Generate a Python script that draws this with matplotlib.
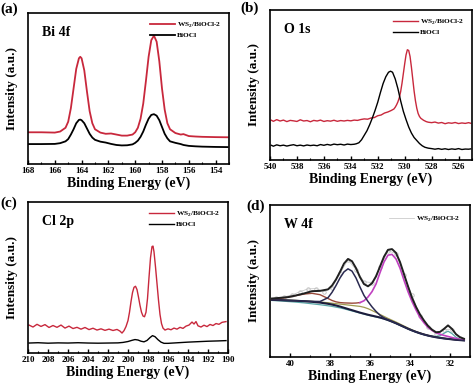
import matplotlib
matplotlib.use("Agg")
import matplotlib.pyplot as plt
from matplotlib.ticker import MultipleLocator

plt.rcParams['font.family'] = ['Liberation Serif', 'DejaVu Serif']
plt.rcParams['font.weight'] = 'bold'
plt.rcParams['axes.labelweight'] = 'bold'
plt.rcParams['mathtext.fontset'] = 'custom'
plt.rcParams['mathtext.rm'] = 'Liberation Serif:bold'

RED = '#c8283c'
LBL_WS = 'WS$_2$/BiOCl-2'

# ---------------- (a) Bi 4f ----------------
bi_x = [168, 167, 166, 165.6, 165.2, 165.0, 164.8, 164.6, 164.4, 164.2, 164.1, 164.0,
        163.8, 163.6, 163.4, 163.2, 163.0, 162.6, 162.2, 161.8, 161.4, 161.0, 160.6,
        160.2, 160.0, 159.8, 159.6, 159.4, 159.2, 159.0, 158.8, 158.6, 158.4, 158.2,
        158.0, 157.8, 157.6, 157.4, 157.0, 156.6, 156.4, 156.0, 155.5, 155, 154, 153.1]
bi_ws = [21, 21, 20.8, 21.5, 24, 28, 37, 50, 63, 70, 71, 70,
         62, 48, 35, 27, 23, 20.8, 20, 20.2, 19.5, 18.8, 18.8,
         19.5, 21, 24, 30, 40, 55, 71, 82, 85, 81, 68,
         50, 36, 27, 23, 20.5, 19.5, 19.8, 18.5, 18.2, 18, 17.8, 17.7]
bi_bio = [13.2, 13.2, 13.3, 13.8, 15, 16.5, 19.5, 23, 27, 29.2, 29.4, 29,
          27, 23.5, 20, 17.5, 16, 14.8, 14.2, 13.3, 12.6, 12.3, 12.4,
          13, 14, 15.5, 18, 21.5, 26, 30, 32.5, 33, 32, 29,
          24.5, 20, 17, 15, 14, 13.2, 12.6, 12, 11.7, 11.5, 11.3, 11.2]

# ---------------- (b) O 1s ----------------
o_ws_x = [539.9, 539.75, 539.5, 539.25, 539, 538.75, 538.5, 538.25, 538, 537.75, 537.5,
          537.25, 537, 536.75, 536.5, 536.25, 536, 535.75, 535.5, 535.25, 535, 534.75,
          534.5, 534.25, 534, 533.75, 533.5, 533.25, 533, 532.75, 532.5, 532.25, 532,
          531.75, 531.5, 531.25, 531, 530.8, 530.7, 530.6, 530.5, 530.4, 530.3, 530.2,
          530.1, 530.0, 529.9, 529.8, 529.7, 529.6, 529.5, 529.4, 529.3, 529.2, 529.1,
          529.0, 528.9, 528.8, 528.6, 528.4, 528.25, 528, 527.75, 527.5, 527.25, 527,
          526.75, 526.5, 526.25, 526, 525.75, 525.5, 525.25, 525.1]
o_ws = [26.5, 25.8, 26.9, 26.0, 26.6, 25.6, 26.4, 26.1, 25.7, 26.8, 26.0,
        26.3, 25.5, 26.4, 26.0, 26.6, 25.7, 26.2, 25.9, 26.5, 25.8, 26.3,
        26.0, 26.4, 26.1, 26.6, 26.4, 27.0, 27.4, 27.2, 28.0, 28.3, 29.5,
        30.0, 31.3, 32.0, 33.0, 34.0, 35.2, 36.8, 38.8, 41.5, 45.5, 51,
        57.5, 64, 70, 73.5, 73, 69, 62, 54, 46, 39.5, 34.5,
        31, 29, 27.8, 26.5, 25.6, 25.2, 24.9, 25.3, 24.6, 25.0, 24.2,
        24.8, 24.5, 25.0, 24.3, 24.7, 24.4, 24.9, 24.5]
o_bio_x = [539.9, 539.75, 539.5, 539.25, 539, 538.75, 538.5, 538.25, 538, 537.75, 537.5,
           537.25, 537, 536.75, 536.5, 536.25, 536, 535.75, 535.5, 535.25, 535, 534.75,
           534.5, 534.25, 534, 533.75, 533.6, 533.4, 533.2, 533.0, 532.8, 532.6, 532.4,
           532.2, 532.0, 531.8, 531.6, 531.4, 531.2, 531.05, 530.9, 530.7, 530.5, 530.3,
           530.1, 529.9, 529.7, 529.5, 529.3, 529.1, 528.9, 528.7, 528.5, 528.25, 528,
           527.75, 527.5, 527.25, 527, 526.75, 526.5, 526.25, 526, 525.75, 525.5,
           525.25, 525.1]
o_bio = [9.8, 9.2, 10.1, 9.5, 9.9, 9.3, 9.8, 10.2, 9.5, 9.9, 9.4,
         10.0, 9.6, 9.9, 9.5, 10.3, 9.8, 10.4, 9.9, 10.6, 10.2, 10.5,
         10.0, 10.6, 10.3, 10.5, 10.8, 11.5, 13.5, 16.5, 19.5, 23.5, 28,
         33, 38.5, 45, 51, 55.5, 58.5, 59.2, 58.5, 54, 47.5, 39.5,
         32.5, 27, 22, 18, 15, 13, 11, 9.5, 8.5, 7.9, 7.6,
         7.2, 7.6, 7.1, 7.5, 7.0, 7.4, 7.1, 7.6, 7.0, 7.3,
         7.2, 7.4]

# ---------------- (c) Cl 2p ----------------
cl_ws_x = [209.9, 209.5, 209.1, 208.7, 208.3, 207.9, 207.5, 207.1, 206.7, 206.3, 205.9,
           205.5, 205.1, 204.7, 204.3, 203.9, 203.5, 203.1, 202.7, 202.3, 201.9, 201.5,
           201.1, 200.8, 200.6, 200.4, 200.2, 200.0, 199.85, 199.7, 199.55, 199.4, 199.25,
           199.1, 198.95, 198.8, 198.65, 198.5, 198.35, 198.2, 198.05, 197.9, 197.75, 197.6,
           197.5, 197.4, 197.25, 197.1, 196.95, 196.8, 196.65, 196.5, 196.3, 196.0, 195.7,
           195.4, 195.1, 194.8, 194.5, 194.2, 193.9, 193.6, 193.4, 193.2, 193.0, 192.7,
           192.4, 192.1, 191.8, 191.5, 191.2, 190.9, 190.6, 190.2]
cl_ws = [18.5, 17.2, 19.0, 17.6, 18.8, 16.9, 18.2, 17.0, 18.5, 16.5, 17.8,
         16.2, 17.0, 15.8, 16.9, 15.5, 16.4, 15.2, 16.0, 15.0, 15.8, 14.9,
         15.6, 14.5, 13.2, 14.8, 17.5, 21.5, 27, 34, 40, 43.5, 44.2,
         42, 37, 31.5, 27, 24.5, 24, 27, 36, 50, 63, 70.5,
         70.8, 67, 57, 46, 35, 25.5, 19.5, 16.5, 15.2, 16.0, 15.4,
         16.5, 15.8, 17.0, 16.3, 17.8, 18.5, 20.5, 19.2, 20.8, 18.0, 17.2,
         18.4, 17.5, 18.9, 18.2, 19.5, 19.0, 20.3, 20.8]
cl_bio_x = [209.9, 209, 208, 207, 206, 205, 204, 203, 202, 201, 200.5, 200, 199.6,
            199.3, 199.0, 198.7, 198.4, 198.1, 197.8, 197.55, 197.3, 197.0, 196.7,
            196.4, 196, 195, 194, 193, 192, 191, 190.2]
cl_bio = [6.6, 6.8, 6.5, 6.7, 6.6, 6.8, 6.6, 6.5, 6.6, 6.7, 7.0, 7.6, 8.4,
          8.9, 8.6, 7.8, 7.4, 8.3, 10.2, 11.5, 10.8, 8.8, 7.2,
          6.4, 6.4, 6.8, 7.2, 7.5, 7.8, 8.0, 8.2]

# ---------------- (d) W 4f ----------------
w_x = [40.9, 40.5, 40.1, 39.7, 39.3, 38.9, 38.5, 38.1, 37.9, 37.7, 37.5, 37.3, 37.1,
       36.9, 36.7, 36.5, 36.3, 36.1, 35.9, 35.7, 35.5, 35.3, 35.1, 34.9, 34.7, 34.5,
       34.3, 34.1, 33.9, 33.7, 33.5, 33.3, 33.1, 32.9, 32.7, 32.5, 32.3, 32.1, 31.9,
       31.7, 31.5, 31.3]
w_bg = [37.6, 37.4, 37.2, 37.0, 36.7, 36.3, 35.8, 35.0, 34.5, 33.9, 33.2, 32.4, 31.6,
        30.8, 30.0, 29.2, 28.5, 27.8, 27.2, 26.6, 26.0, 25.2, 24.3, 23.3, 22.2, 21.0,
        19.8, 18.6, 17.5, 16.5, 15.6, 14.8, 14.1, 13.5, 13.0, 12.6, 12.2, 11.9, 11.6,
        11.3, 11.1, 10.9]
w_teal = [37.2, 36.9, 36.5, 36.1, 35.6, 35.0, 34.4, 33.7, 33.3, 32.8, 32.3, 31.7, 31.0,
          30.3, 29.6, 28.9, 28.2, 27.5, 26.9, 26.3, 25.7, 25.0, 24.1, 23.1, 22.0, 20.8,
          19.6, 18.4, 17.3, 16.3, 15.4, 14.6, 14.0, 13.6, 13.5, 14.0, 15.6, 17.0, 15.4,
          13.0, 11.6, 11.0]
w_olive = [37.8, 37.6, 37.4, 37.2, 36.9, 36.6, 36.2, 35.7, 35.4, 35.1, 34.8, 34.5, 34.2,
           33.9, 33.6, 33.3, 32.7, 31.8, 30.6, 29.3, 28.0, 26.7, 25.4, 24.2, 23.0, 21.7,
           20.4, 19.1, 17.9, 16.8, 15.9, 15.0, 14.3, 13.7, 13.2, 12.7, 12.3, 12.0, 11.7,
           11.4, 11.2, 11.0]
w_dark = [37.6, 37.4, 37.2, 37.0, 36.8, 36.6, 36.5, 39.0, 42.5, 47.0, 52.0, 56.0, 58.0,
          56.5, 52.0, 46.0, 40.5, 36.5, 33.0, 30.0, 27.5, 25.8, 24.5, 23.3, 22.2, 21.0,
          19.8, 18.6, 17.5, 16.5, 15.6, 14.8, 14.1, 13.5, 13.0, 12.6, 12.2, 11.9, 11.6,
          11.3, 11.1, 10.9]
w_brown_x = [40.9, 40.5, 40.1, 39.7, 39.3, 38.9, 38.5, 38.1, 37.9, 37.7, 37.5, 37.3,
             37.1, 36.9, 36.7, 36.5]
w_brown = [38.0, 38.5, 39.3, 40.4, 41.4, 41.9, 41.0, 38.5, 37.2, 36.3, 35.8, 35.6,
           35.5, 35.4, 35.5, 35.8]
w_mag_x = [36.5, 36.3, 36.1, 35.9, 35.7, 35.5, 35.3, 35.1, 34.9, 34.7, 34.5, 34.3, 34.1,
           33.9, 33.7, 33.5, 33.3, 33.1, 32.9, 32.7, 32.5, 32.3, 32.1, 31.9, 31.7, 31.5,
           31.3]
w_mag = [35.8, 37.0, 39.5, 43.0, 48.0, 55.5, 62.5, 67.0, 67.5, 64.5, 58.5, 50.5, 43.0,
         36.5, 31.0, 26.0, 22.5, 19.5, 17.5, 16.0, 15.0, 14.2, 13.5, 12.8, 12.2, 11.6,
         11.2]
w_env = [38.5, 38.9, 39.4, 40.5, 41.8, 43.3, 43.5, 44.5, 47.0, 51.0, 56.0, 61.5, 64.5,
         63.0, 58.5, 52.5, 48.0, 46.5, 48.5, 53.0, 59.5, 66.0, 70.5, 71.0, 68.5, 62.5,
         54.5, 46.5, 39.0, 33.0, 28.0, 24.0, 20.5, 18.0, 16.3, 16.5, 18.5, 20.8, 18.5,
         15.0, 13.0, 12.0]
w_raw_x = [40.7, 40.3, 39.9, 39.5, 39.1, 38.7, 38.3, 37.9, 37.5, 37.1, 36.7, 36.3,
           35.9, 35.5, 35.1, 34.7, 34.3, 33.9, 33.5, 33.1, 32.7, 32.3, 31.9, 31.5]
w_raw = [38.9, 39.6, 40.8, 43.0, 44.8, 45.0, 43.0, 45.5, 55.0, 64.0, 57.5, 49.5,
         49.0, 59.0, 70.0, 68.0, 54.0, 40.5, 27.0, 20.0, 15.0, 18.0, 18.0, 12.5]

W, H = 474, 387
fig = plt.figure(figsize=(W / 100, H / 100), dpi=100)


def make_axes(l, r, t, b):
    return fig.add_axes([l / W, 1 - b / H, (r - l) / W, (b - t) / H])


def style(ax, xlim, major, tag):
    ax.set_xlim(*xlim)
    ax.set_ylim(0, 100)
    ax.xaxis.set_major_locator(MultipleLocator(major))
    ax.xaxis.set_minor_locator(MultipleLocator(major / 2))
    ax.tick_params(axis='x', which='major', direction='in', length=3, width=1,
                   labelsize=6.5, pad=2, top=False)
    ax.tick_params(axis='x', which='minor', direction='in', length=1.8, width=0.8,
                   top=False)
    ax.set_yticks([])
    for s in ax.spines.values():
        s.set_linewidth(1.2)
    ax.set_xlabel('Binding Energy (eV)', fontsize=10)
    ax.xaxis.set_label_coords(0.5, -0.085)
    ax.set_ylabel('Intensity (a.u.)', fontsize=9.5)
    ax.yaxis.set_label_coords(-0.05, 0.5)
    ax.text(0.07, 0.87, tag, transform=ax.transAxes, fontsize=10,
            ha='left', va='center')


def legend(ax):
    ax.legend(loc='upper right', frameon=False, fontsize=5.3, handlelength=3.4,
              handletextpad=0.3, labelspacing=0.35, borderaxespad=0.6)


ax_a = make_axes(28, 229, 13, 164)
ax_a.plot(bi_x, bi_ws, color=RED, lw=1.3, label=LBL_WS)
ax_a.plot(bi_x, bi_bio, color='black', lw=1.3, label='BiOCl')
style(ax_a, (168, 153), 2, 'Bi 4f')
legend(ax_a)

ax_b = make_axes(270, 472, 10, 160)
ax_b.plot(o_ws_x, o_ws, color=RED, lw=1.0, label=LBL_WS)
ax_b.plot(o_bio_x, o_bio, color='black', lw=1.0, label='BiOCl')
style(ax_b, (540, 525), 2, 'O 1s')
legend(ax_b)

ax_c = make_axes(28, 228, 202, 353)
ax_c.plot(cl_ws_x, cl_ws, color=RED, lw=1.0, label=LBL_WS)
ax_c.plot(cl_bio_x, cl_bio, color='black', lw=1.0, label='BiOCl')
style(ax_c, (210, 190), 2, 'Cl 2p')
legend(ax_c)

ax_d = make_axes(270, 470, 205, 357)
ax_d.plot(w_raw_x, w_raw, color='#c0c0c0', lw=0.5, marker='o', ms=2.5, mfc='none',
          mew=0.6, label=LBL_WS)
ax_d.plot(w_x, w_olive, color='#a09a50', lw=0.9)
ax_d.plot(w_x, w_teal, color='#5aa8a8', lw=0.9)
ax_d.plot(w_x, w_bg, color='#1c1c3c', lw=1.5)
ax_d.plot(w_brown_x, w_brown, color='#9a4a3a', lw=1.0)
ax_d.plot(w_mag_x, w_mag, color='#c040c0', lw=1.2)
ax_d.plot(w_x, w_dark, color='#2a2a50', lw=1.1)
ax_d.plot(w_x, w_env, color='#202020', lw=1.4)
style(ax_d, (41, 31), 2, 'W 4f')
leg = ax_d.legend(loc='upper right', frameon=False, fontsize=5.3, handlelength=3.4,
                  handletextpad=0.3, borderaxespad=0.9)
for h in leg.legend_handles:
    h.set_marker('')

for tag, x, y in [('(a)', 0, 9), ('(b)', 240, 8), ('(c)', 0, 203), ('(d)', 246, 206)]:
    fig.text(x / W, 1 - y / H, tag, fontsize=11, ha='left', va='center')

fig.savefig('out.png', dpi=100)
